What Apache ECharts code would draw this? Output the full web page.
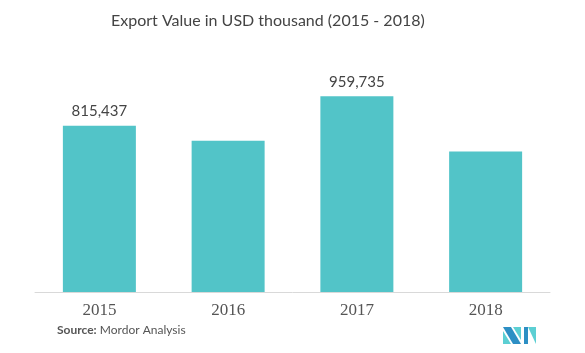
<!DOCTYPE html>
<html>
<head>
<meta charset="utf-8">
<script src="https://cdn.jsdelivr.net/npm/echarts@6/dist/echarts.min.js"></script>
<style>
  html, body { margin: 0; padding: 0; background: #fff; }
  #chart { width: 585px; height: 353px; }
</style>
</head>
<body>
<div id="chart"></div>
<script>
// Datos
const years = ['2015', '2016', '2017', '2018'];
const exportValues = [815437, 741000, 959735, 688500];
const labeledYears = ['2015', '2017'];

const chart = echarts.init(document.getElementById('chart'));

const option = {
    animation: false,
    title: {
        text: 'Export Value in USD thousand (2015 - 2018)',
        left: 106,
        top: 8,
        textStyle: {
            fontFamily: 'Lato',
            fontWeight: 'normal',
            fontSize: 16,
            color: '#444'
        }
    },
    grid: {
        left: 35,
        right: 35,
        top: 88,
        bottom: 61,
        containLabel: false
    },
    xAxis: {
        type: 'category',
        data: years,
        axisLine: { lineStyle: { color: '#d9d9d9', width: 1 } },
        axisTick: { show: false },
        axisLabel: {
            fontFamily: 'Liberation Serif',
            fontSize: 17,
            color: '#555',
            margin: 10
        }
    },
    yAxis: {
        type: 'value',
        min: 0,
        max: 1000000,
        show: false,
        splitLine: { show: false }
    },
    series: [{
        type: 'bar',
        barWidth: 73,
        data: exportValues.map((v, i) => ({
            value: v,
            label: {
                show: labeledYears.includes(years[i]),
                position: 'top',
                distance: 7,
                formatter: p => p.value.toLocaleString('en-US'),
                fontFamily: 'Lato',
                fontSize: 15,
                color: '#444'
            }
        })),
        itemStyle: { color: '#52c4c8' }
    }],
    graphic: [
        {
            type: 'text',
            left: 57,
            top: 324,
            style: {
                text: '{b|Source:} Mordor Analysis',
                rich: {
                    b: { fontFamily: 'Lato', fontWeight: 'bold', fontSize: 12, fill: '#555' }
                },
                fontFamily: 'Lato',
                fontSize: 12,
                fill: '#555'
            }
        },
        // logo
        { type: 'polygon', shape: { points: [[503, 327], [511, 327], [521, 344], [513, 344]] }, style: { fill: '#2d8fc4' } },
        { type: 'polygon', shape: { points: [[503, 331], [511, 344], [503, 344]] }, style: { fill: '#5ccfd3' } },
        { type: 'polygon', shape: { points: [[513, 327], [521, 327], [521, 340]] }, style: { fill: '#5ccfd3' } },
        { type: 'polygon', shape: { points: [[524, 327], [528, 327], [528, 344], [524, 344]] }, style: { fill: '#2d8fc4' } },
        { type: 'polygon', shape: { points: [[528, 327], [536, 327], [536, 344]] }, style: { fill: '#5ccfd3' } }
    ]
};

chart.setOption(option);
window.addEventListener('resize', () => chart.resize());
</script>
</body>
</html>
